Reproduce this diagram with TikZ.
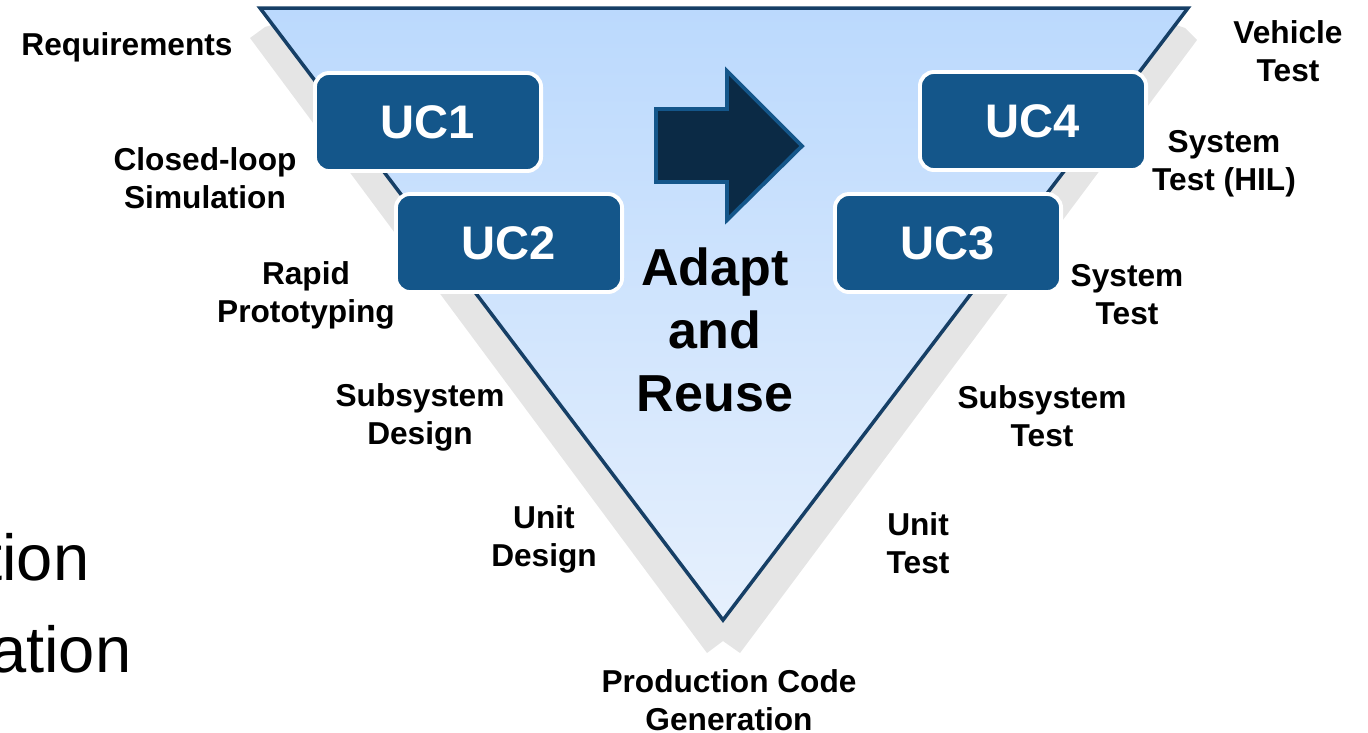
\documentclass[tikz,border=0pt]{standalone}
\usepackage{fontspec}
\setmainfont{Liberation Sans}
\definecolor{vedge}{RGB}{22,63,102}
\definecolor{vtop}{RGB}{187,217,253}
\definecolor{vbottom}{RGB}{230,240,253}
\definecolor{ucfill}{RGB}{20,86,138}
\definecolor{arrowfill}{RGB}{11,42,69}
\definecolor{vshadow}{RGB}{229,229,229}

\begin{document}
\begin{tikzpicture}[x=0.01cm,y=-0.01cm,
    lbl/.style={font=\fontsize{9}{10.8}\selectfont\bfseries, align=center, inner sep=0pt},
    ucbox/.style={draw=white, line width=1.1pt, fill=ucfill, rounded corners=4pt,
      minimum width=2.26cm, minimum height=0.98cm, inner sep=0pt,
      text=white, font=\fontsize{13.4}{16}\selectfont\bfseries},
    cut/.style={font=\fontsize{18.5}{22}\selectfont, inner sep=0pt, anchor=base east}]
        \useasboundingbox (0,0) rectangle (1368,732);

        \fill[vshadow] (250,38) -- (265,27) -- (285,21) -- (1165,21) -- (1185,28) -- (1197,40)
          -- (740,653) -- (723,641) -- (707,653) -- cycle;
        \shade[top color=vtop, bottom color=vbottom] (260,8) -- (1188,8) -- (723,620) -- cycle;
        \draw[vedge, line width=1pt, line join=miter] (260,8) -- (1188,8) -- (723,620) -- cycle;

        \node[ucbox] (uc1) at (428,122) {UC1};
        \node[ucbox] (uc2) at (509,243) {UC2};
        \node[ucbox] (uc4) at (1033,121) {UC4};
        \node[ucbox] (uc3) at (948,243) {UC3};

        \filldraw[fill=arrowfill, draw=ucfill, line width=1.1pt]
          (656,109) -- (727,109) -- (727,71) -- (802,146) -- (727,220) -- (727,182) -- (656,182) -- cycle;
        \node[font=\fontsize{14.8}{17.9}\selectfont\bfseries, align=center, inner sep=0pt] (adapt) at (715,330) {Adapt\\and\\Reuse};

        \node[lbl] (req) at (127,47) {Requirements};
        \node[lbl] (cls) at (205,178) {Closed-loop\\Simulation};
        \node[lbl] (rp) at (306,295) {Rapid\\Prototyping};
        \node[lbl] (ssd) at (420,417) {Subsystem\\Design};
        \node[lbl] (ud) at (544,539) {Unit\\Design};
        \node[lbl] (pcg) at (729,700) {Production Code\\Generation};
        \node[lbl] (ut) at (918,543) {Unit\\Test};
        \node[lbl] (sst) at (1042,416) {Subsystem\\Test};
        \node[lbl] (st) at (1127,295) {System\\Test};
        \node[lbl] (hil) at (1224,164) {System\\Test (HIL)};
        \node[lbl] (vt) at (1288,51) {Vehicle\\Test};

        \node[cut] (tion) at (90,580) {tion};
        \node[cut] (ation) at (132,672) {ation};
      \end{tikzpicture}
\end{document}
